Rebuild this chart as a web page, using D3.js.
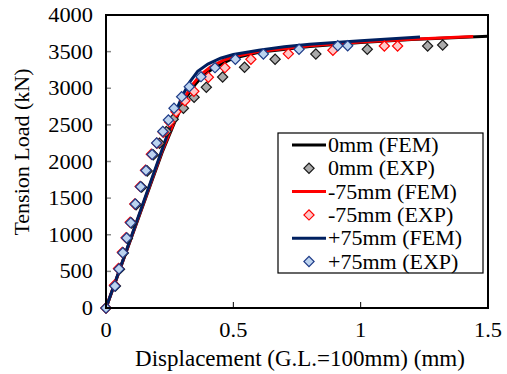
<!DOCTYPE html>
<html>
<head>
<meta charset="utf-8">
<script src="https://cdn.jsdelivr.net/npm/d3@7"></script>
<style>
  body { margin: 0; background: #fff; }
  svg { display: block; }
</style>
</head>
<body>
<div id="graphArea"></div>
<script>
// FEM curves [displacement mm, load kN]
var fem0 = [[0,0],[0.22,2120],[0.27,2540],[0.31,2850],[0.35,3050],[0.38,3170],[0.42,3270],[0.47,3360],[0.5,3410],[0.6,3490],[0.8,3570],[1.0,3625],[1.2,3665],[1.5,3710]]
var femM75 = [[0,0],[0.22,2140],[0.27,2560],[0.31,2880],[0.34,3050],[0.37,3180],[0.41,3290],[0.46,3380],[0.5,3430],[0.6,3500],[0.8,3580],[1.0,3630],[1.2,3670],[1.442,3705]]
var femP75 = [[0,0],[0.22,2160],[0.26,2560],[0.3,2900],[0.33,3090],[0.36,3230],[0.4,3330],[0.45,3410],[0.5,3460],[0.6,3520],[0.7,3565],[0.8,3600],[1.0,3650],[1.233,3700]]

// experiment points
var exp0 = [[0,0],[0.037,300],[0.053,530],[0.068,750],[0.084,950],[0.1,1160],[0.118,1410],[0.14,1650],[0.162,1870],[0.186,2090],[0.21,2250],[0.237,2410],[0.264,2576],[0.304,2726],[0.346,2876],[0.394,3013],[0.458,3154],[0.544,3286],[0.664,3395],[0.824,3468],[1.026,3532],[1.263,3577],[1.322,3590]]
var expM75 = [[0,0],[0.033,310],[0.049,540],[0.064,760],[0.079,960],[0.095,1170],[0.113,1420],[0.134,1660],[0.155,1880],[0.178,2100],[0.2,2250],[0.225,2400],[0.25,2540],[0.275,2680],[0.31,2830],[0.345,2960],[0.402,3150],[0.467,3281],[0.569,3395],[0.716,3472],[0.891,3518],[1.093,3577],[1.145,3577]]
var expP75 = [[0,0],[0.035,300],[0.051,532],[0.066,755],[0.081,956],[0.097,1165],[0.115,1420],[0.136,1656],[0.157,1877],[0.181,2096],[0.199,2253],[0.223,2410],[0.245,2567],[0.267,2726],[0.297,2885],[0.327,3021],[0.373,3158],[0.428,3281],[0.508,3395],[0.618,3468],[0.758,3532],[0.91,3581],[0.949,3581]]

var xTicks = [0, 0.5, 1, 1.5]
var yTicks = [0,500,1000,1500,2000,2500,3000,3500,4000]
var legendLabels = ["0mm (FEM)","0mm (EXP)","-75mm (FEM)","-75mm (EXP)","+75mm (FEM)","+75mm (EXP)"]

var W = 507, H = 374
var margin = { top: 15, left: 106, bottom: 66, right: 19 }
var width = W - margin.left - margin.right
var height = H - margin.top - margin.bottom

var svg = d3.select("#graphArea").append("svg")
			.attr('width', W)
			.attr('height', H)
			.attr('font-family', '"Liberation Serif", "Times New Roman", serif')

var g = svg.append('g')
			.attr('transform', 'translate(' + margin.left + ', ' + margin.top + ')')

var x = d3.scaleLinear().domain([0,1.5]).range([0,width])
var y = d3.scaleLinear().domain([0,4000]).range([height,0])

// tick labels look a bit wide in the original, so stretch them
function tickText(parent, px, py, str, anchor) {
	parent.append("text")
		.attr("transform","translate("+px+","+py+") scale(1.12,1)")
		.attr("text-anchor",anchor).attr("font-size",20)
		.text(str)
}

// ticks (inside)
g.selectAll(".ytick").data(yTicks.slice(1,-1)).enter().append("line")
	.attr("x1",0).attr("x2",5)
	.attr("y1",d=>y(d)).attr("y2",d=>y(d))
	.attr("stroke","#888").attr("stroke-width",1.5)
g.selectAll(".xtick").data(xTicks.slice(1,-1)).enter().append("line")
	.attr("x1",d=>x(d)).attr("x2",d=>x(d))
	.attr("y1",height).attr("y2",height-6)
	.attr("stroke","#000").attr("stroke-width",1)

yTicks.forEach(function(v){ tickText(g, -13, y(v)+7, v, "end") })
xTicks.forEach(function(v){ tickText(g, x(v), height+29, v, "middle") })

// axis titles
svg.append("text")
	.attr("transform","translate(29,152) rotate(-90)")
	.attr("text-anchor","middle").attr("font-size",22)
	.text("Tension Load (kN)")
svg.append("text")
	.attr("x",300).attr("y",366)
	.attr("text-anchor","middle").attr("font-size",23)
	.text("Displacement (G.L.=100mm) (mm)")

var line = d3.line().x(d=>x(d[0])).y(d=>y(d[1]))

var lineStyles = [
	{data:fem0, color:"#000000"},
	{data:femM75, color:"#ff0000"},
	{data:femP75, color:"#002060"}
]
var expStyles = [
	{data:exp0, fill:"#aaaaaa", stroke:"#1a1a1a"},
	{data:expM75, fill:"#ffc8c8", stroke:"#ff0000"},
	{data:expP75, fill:"#bcd3ef", stroke:"#1f3c88"}
]

var diamond = d3.symbol().type(d3.symbolSquare).size(52)

// clip so curves stay in the box
g.append("clipPath").attr("id","plotclip").append("rect")
	.attr("x",0).attr("y",0).attr("width",width).attr("height",height)

var plot = g.append("g").attr("clip-path","url(#plotclip)")

// draw lines and points in order black, red, blue
for (var i = 0; i < 3; ++i) {
	plot.append("path")
		.attr("d", line(lineStyles[i].data))
		.attr("fill","none")
		.attr("stroke",lineStyles[i].color)
		.attr("stroke-width",3)
}
for (var i = 0; i < 3; ++i) {
	var s = expStyles[i]
	g.selectAll(".pt"+i).data(s.data).enter().append("path")
		.attr("d",diamond)
		.attr("transform",d=>"translate("+x(d[0])+","+y(d[1])+") rotate(45)")
		.attr("fill",s.fill).attr("stroke",s.stroke).attr("stroke-width",1.2)
}

// frame
g.append("rect")
	.attr("x",0).attr("y",0).attr("width",width).attr("height",height)
	.attr("fill","none").attr("stroke","#000").attr("stroke-width",2)

// legend
var lg = svg.append("g").attr("transform","translate(278,133)")
lg.append("rect").attr("width",205).attr("height",140)
	.attr("fill","#fff").attr("stroke","#000").attr("stroke-width",1.2)

legendLabels.forEach(function(lab, k){
	var cy = 12 + k*23.3
	var idx = Math.floor(k/2)
	if (k % 2 == 0) {
		lg.append("line").attr("x1",14).attr("x2",48).attr("y1",cy).attr("y2",cy)
			.attr("stroke",lineStyles[idx].color).attr("stroke-width",3)
	} else {
		lg.append("path").attr("d",diamond)
			.attr("transform","translate(31,"+cy+") rotate(45)")
			.attr("fill",expStyles[idx].fill).attr("stroke",expStyles[idx].stroke).attr("stroke-width",1.2)
	}
	lg.append("text").attr("x",50).attr("y",cy+7)
		.attr("font-size",22).text(lab)
})
</script>
</body>
</html>
